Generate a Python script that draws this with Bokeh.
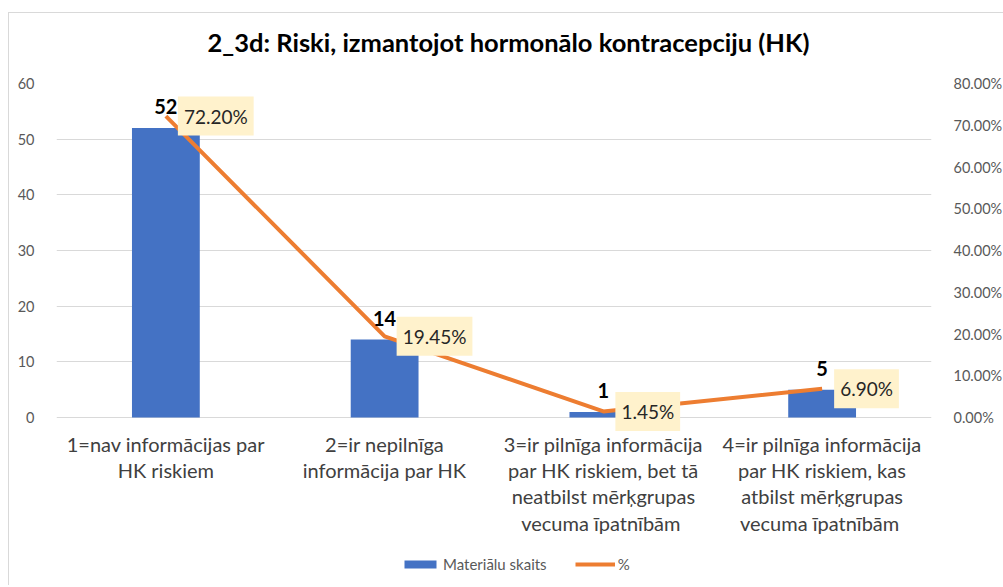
from bokeh.plotting import figure
from bokeh.models import (ColumnDataSource, Range1d, LinearAxis, FactorRange, Legend, LegendItem,
                          LabelSet, Label, NumeralTickFormatter, FixedTicker, Title)
from bokeh.core.properties import value
from bokeh.embed import file_html
from bokeh.resources import INLINE

title_text = "2_3d: Riski, izmantojot hormonālo kontracepciju (HK)"
categories = [
    "1=nav informācijas par\nHK riskiem",
    "2=ir nepilnīga\ninformācija par HK",
    "3=ir pilnīga informācija\npar HK riskiem, bet tā\nneatbilst mērķgrupas\nvecuma  īpatnībām",
    "4=ir pilnīga informācija\npar HK riskiem, kas\natbilst mērķgrupas\nvecuma  īpatnībām",
]
counts = [52, 14, 1, 5]
percents = [0.7220, 0.1945, 0.0145, 0.0690]
series_names = ["Materiālu skaits", "%"]
left_ticks = [0, 10, 20, 30, 40, 50, 60]
right_ticks = [0.0, 0.1, 0.2, 0.3, 0.4, 0.5, 0.6, 0.7, 0.8]

FONT = "Lato"
BLUE = "#4472C4"
ORANGE = "#ED7D31"
GRID = "#D9D9D9"
TXT = "#595959"

# the plotting frame runs down to the bottom of the canvas, so that the category
# texts, the legend and the lowest data label are drawn inside it (not clipped);
# the value axes keep 0..60 / 0..80% on the top 334 px of it
PLOT_H = 334
EXTRA_H = 168
y_lo = -left_ticks[-1] * EXTRA_H / PLOT_H
y2_lo = -right_ticks[-1] * EXTRA_H / PLOT_H

src = ColumnDataSource(dict(
    cat=categories,
    count=counts,
    pct=percents,
    base=[0] * len(categories),
    count_lbl=[str(c) for c in counts],
    pct_lbl=["%.2f%%" % (v * 100) for v in percents],
))

p = figure(
    x_range=FactorRange(factors=categories, range_padding=0),
    y_range=Range1d(y_lo, left_ticks[-1]),
    width=993, height=572,
    frame_width=875, frame_height=PLOT_H + EXTRA_H,
    min_border_left=47, min_border_right=71,
    min_border_top=70, min_border_bottom=0,
    output_backend="svg", toolbar_location=None,
)
p.styles = {"margin-top": "12px", "margin-left": "8px",
            "border-left": "1px solid #D9D9D9", "border-top": "1px solid #D9D9D9"}
p.outline_line_color = None
p.background_fill_color = "white"
p.border_fill_color = "white"

p.title = Title(text=title_text, align="left", offset=151, text_font=FONT, text_font_size="25.5px",
                text_font_style="bold", text_color="#000000", padding=(0, 0, 0, 22))

p.extra_y_ranges = {"pct": Range1d(y2_lo, right_ticks[-1])}

bars = p.vbar(x="cat", top="count", width=0.31, source=src, fill_color=BLUE, line_color=None)
line = p.line(x="cat", y="pct", source=src, y_range_name="pct", line_color=ORANGE, line_width=4,
              line_join="round")

# axes
p.xaxis.visible = False
p.xgrid.visible = False
p.ygrid.grid_line_color = GRID
p.ygrid.grid_line_width = 1

p.yaxis[0].ticker = FixedTicker(ticks=left_ticks)
ax2 = LinearAxis(y_range_name="pct", ticker=FixedTicker(ticks=right_ticks),
                 formatter=NumeralTickFormatter(format="0.00%"))
p.add_layout(ax2, "right")

for ax in [p.yaxis[0], ax2]:
    ax.axis_line_color = None
    ax.major_tick_line_color = None
    ax.minor_tick_line_color = None
    ax.major_label_text_font = FONT
    ax.major_label_text_font_size = "14.5px"
    ax.major_label_text_color = TXT
    ax.major_label_standoff = 16

# category texts under the baseline
p.text(x="cat", y="base", text="cat", source=src, text_align="center", text_baseline="top",
       y_offset=14, text_font=value(FONT), text_font_size=value("20px"),
       text_color="#404040", text_line_height=1.1)

# data labels
cnt_labels = LabelSet(x="cat", y="count", text="count_lbl", source=src, text_align="center",
                      text_baseline="alphabetic", y_offset=14, text_font=value(FONT),
                      text_font_size=value("20px"), text_font_style="bold", text_color="#000000")
p.add_layout(cnt_labels)

# factor i is centred at synthetic coordinate i + 0.5 on the FactorRange
for i, (v, t) in enumerate(zip(percents, src.data["pct_lbl"])):
    p.add_layout(Label(x=i + 0.5, y=v, y_range_name="pct", text=t, x_offset=12, text_align="left",
                       text_baseline="middle", text_font=FONT, text_font_size="19px",
                       text_color="#262626", background_fill_color="#FFF2CC",
                       padding=(6, 8)))

legend = Legend(items=[LegendItem(label=series_names[0], renderers=[bars]),
                       LegendItem(label=series_names[1], renderers=[line])],
                orientation="horizontal", location=(344, 12),
                glyph_width=40, glyph_height=10, label_standoff=3, spacing=28,
                padding=0, margin=0, border_line_color=None, background_fill_alpha=0,
                label_text_font=FONT, label_text_font_size="15px", label_text_color=TXT)
p.add_layout(legend, "center")

open("out.html", "w").write(file_html(p, INLINE))
